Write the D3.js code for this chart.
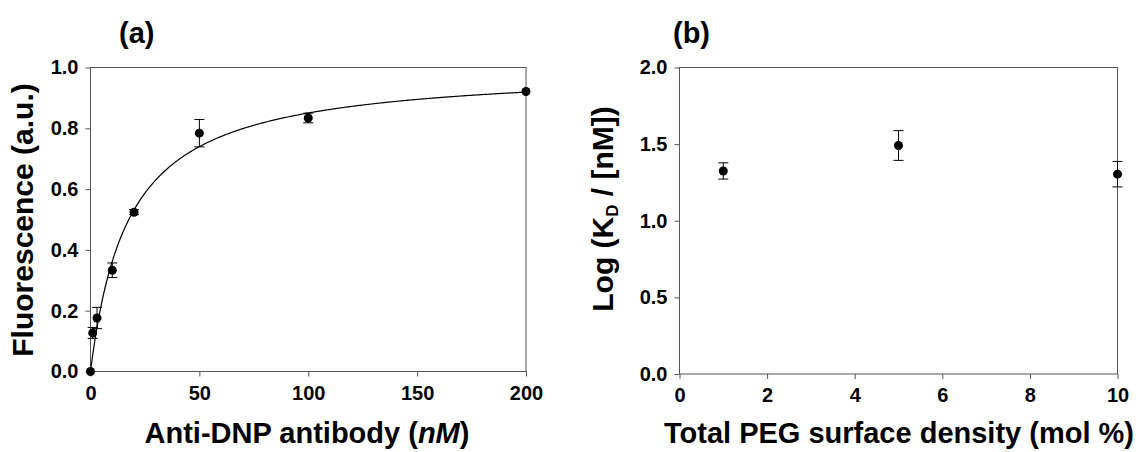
<!DOCTYPE html>
<html lang="en">
	<head>
		<meta charset="utf-8">
		<title>Binding curve and log KD</title>
		<script type="text/javascript" src="https://cdn.jsdelivr.net/npm/d3@7"></script>
		<style type="text/css">
			body { margin: 0; background: #fff; }
			text { font-family: "Liberation Sans", Arial, sans-serif; font-weight: bold; fill: #000; }
			.frame { fill: none; stroke: #555; stroke-width: 1; }
			.axis path, .axis line { stroke: #555; }
		</style>
	</head>
	<body>
		<script type="text/javascript">

			//Panel (a) data: fluorescence vs antibody concentration
			var antibodyConc = [0, 1, 3, 10, 20, 50, 100, 200];
			var fluorescence = [0, 0.127, 0.176, 0.333, 0.524, 0.784, 0.834, 0.921];
			var fluorErr     = [0, 0.018, 0.035, 0.024, 0.008, 0.045, 0.016, 0];
			//one-site binding fit
			var fitBmax = 1.0;
			var fitKd = 17.6;
			var xTicksA = [0, 50, 100, 150, 200];
			var yTicksA = [0, 0.2, 0.4, 0.6, 0.8, 1.0];

			//Panel (b) data: log KD vs PEG density
			var pegDensity = [1, 5, 10];
			var logKd      = [1.325, 1.491, 1.304];
			var logKdErr   = [0.053, 0.097, 0.083];
			var xTicksB = [0, 2, 4, 6, 8, 10];
			var yTicksB = [0, 0.5, 1.0, 1.5, 2.0];

			var w = 1141;
			var h = 452;

			var svg = d3.select("body")
						.append("svg")
						.attr("width", w)
						.attr("height", h);

			function drawPanel(opt) {
				var xScale = d3.scaleLinear().domain(opt.xDomain).range([opt.left, opt.right]);
				var yScale = d3.scaleLinear().domain(opt.yDomain).range([opt.bottom, opt.top]);

				var g = svg.append("g");

				//box
				g.append("rect")
				 .attr("class", "frame")
				 .attr("x", opt.left)
				 .attr("y", opt.top)
				 .attr("width", opt.right - opt.left)
				 .attr("height", opt.bottom - opt.top);

				var xAxis = d3.axisBottom(xScale).tickValues(opt.xTicks).tickSize(5).tickSizeOuter(0)
								.tickFormat(opt.xFormat).tickPadding(9);
				var yAxis = d3.axisLeft(yScale).tickValues(opt.yTicks).tickSize(5).tickSizeOuter(0)
								.tickFormat(d3.format(".1f")).tickPadding(7);

				var gx = g.append("g")
				 .attr("class", "axis")
				 .attr("transform", "translate(0," + opt.bottom + ")")
				 .call(xAxis);
				var gy = g.append("g")
				 .attr("class", "axis")
				 .attr("transform", "translate(" + opt.left + ",0)")
				 .call(yAxis);
				g.selectAll(".axis .domain").remove();
				[gx, gy].forEach(function(a) {
					a.attr("font-family", null).attr("font-size", null);
					a.selectAll("text")
					 .style("font-family", "'Liberation Sans', Arial, sans-serif")
					 .style("font-weight", "bold")
					 .style("font-size", "20px")
					 .style("fill", "#000");
				});

				//fit curve
				if (opt.curve) {
					var line = d3.line()
								.x(function(d) { return xScale(d[0]); })
								.y(function(d) { return yScale(d[1]); });
					g.append("path")
					 .datum(opt.curve)
					 .attr("d", line)
					 .attr("fill", "none")
					 .attr("stroke", "#000")
					 .attr("stroke-width", 1.2);
				}

				var pts = opt.xs.map(function(x, i) {
					return { x: x, y: opt.ys[i], e: opt.errs[i] };
				});

				//error bars
				var eb = g.selectAll(".eb")
						  .data(pts.filter(function(d) { return d.e > 0; }))
						  .enter()
						  .append("g")
						  .attr("stroke", "#000")
						  .attr("stroke-width", 1);
				eb.append("line")
				  .attr("x1", function(d) { return xScale(d.x); })
				  .attr("x2", function(d) { return xScale(d.x); })
				  .attr("y1", function(d) { return yScale(d.y - d.e); })
				  .attr("y2", function(d) { return yScale(d.y + d.e); });
				[-1, 1].forEach(function(s) {
					eb.append("line")
					  .attr("x1", function(d) { return xScale(d.x) - 5; })
					  .attr("x2", function(d) { return xScale(d.x) + 5; })
					  .attr("y1", function(d) { return yScale(d.y + s * d.e); })
					  .attr("y2", function(d) { return yScale(d.y + s * d.e); });
				});

				//points
				g.selectAll(".pt")
				 .data(pts)
				 .enter()
				 .append("circle")
				 .attr("cx", function(d) { return xScale(d.x); })
				 .attr("cy", function(d) { return yScale(d.y); })
				 .attr("r", 4.5)
				 .attr("fill", "#000");

				//panel letter
				svg.append("text")
				   .attr("x", opt.letterX)
				   .attr("y", 43)
				   .attr("font-size", "29px")
				   .text(opt.letter);

				return g;
			}

			var curve = d3.range(0, 200.01, 0.5).map(function(x) {
				return [x, fitBmax * x / (fitKd + x)];
			});

			drawPanel({
				left: 90.5, right: 526, top: 67.5, bottom: 371.5,
				xDomain: [0, 200], yDomain: [0, 1],
				xTicks: xTicksA, yTicks: yTicksA, xFormat: d3.format("d"),
				xs: antibodyConc, ys: fluorescence, errs: fluorErr,
				curve: curve, letter: "(a)", letterX: 119
			});

			drawPanel({
				left: 679.5, right: 1117.5, top: 67.5, bottom: 374,
				xDomain: [0, 10], yDomain: [0, 2],
				xTicks: xTicksB, yTicks: yTicksB, xFormat: d3.format("d"),
				xs: pegDensity, ys: logKd, errs: logKdErr,
				curve: null, letter: "(b)", letterX: 673
			});

			//axis titles
			var xt = svg.append("text")
						.attr("x", 307)
						.attr("y", 443)
						.attr("text-anchor", "middle")
						.attr("font-size", "29px");
			xt.append("tspan").text("Anti-DNP antibody (");
			xt.append("tspan").attr("font-style", "italic").text("nM");
			xt.append("tspan").text(")");

			svg.append("text")
			   .attr("transform", "translate(33,220) rotate(-90)")
			   .attr("text-anchor", "middle")
			   .attr("font-size", "30px")
			   .text("Fluorescence (a.u.)");

			svg.append("text")
			   .attr("x", 899)
			   .attr("y", 443)
			   .attr("text-anchor", "middle")
			   .attr("font-size", "29px")
			   .text("Total PEG surface density (mol %)");

			var yt = svg.append("text")
						.attr("transform", "translate(613,209) rotate(-90)")
						.attr("text-anchor", "middle")
						.attr("font-size", "30px");
			yt.append("tspan").text("Log (K");
			yt.append("tspan").attr("font-size", "17px").attr("dy", 5).text("D");
			yt.append("tspan").attr("dy", -5).text(" / [nM])");

		</script>
	</body>
</html>
